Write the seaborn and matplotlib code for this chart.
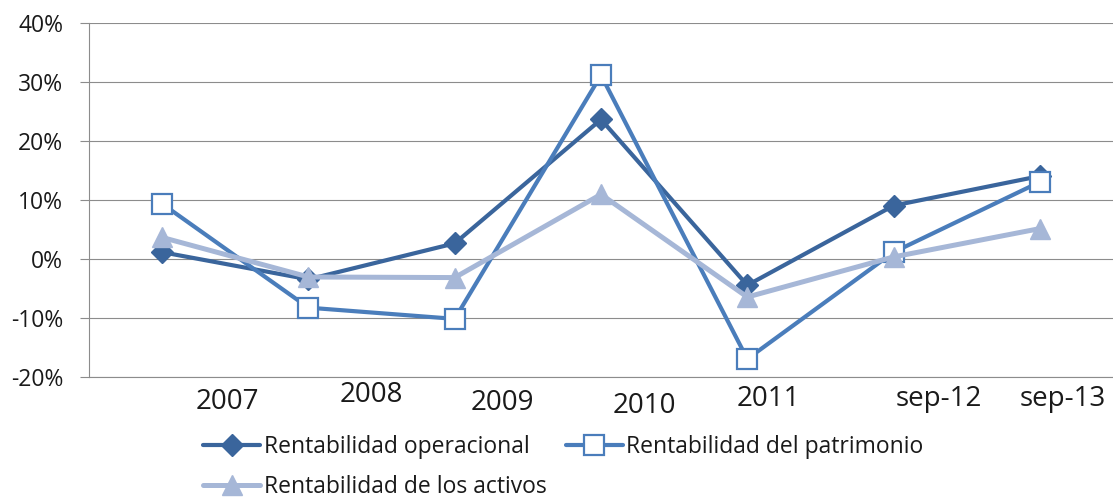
import matplotlib
matplotlib.use("Agg")
import matplotlib.pyplot as plt
from matplotlib.lines import Line2D
from matplotlib.ticker import PercentFormatter, MultipleLocator
import seaborn as sns
import pandas as pd

# Periods on the x axis
periods = ["2007", "2008", "2009", "2010", "2011", "sep-12", "sep-13"]

# Profitability ratios (fractions)
rent_operacional = [0.011, -0.035, 0.026, 0.236, -0.045, 0.090, 0.140]
rent_patrimonio = [0.093, -0.083, -0.102, 0.311, -0.170, 0.011, 0.130]
rent_activos = [0.036, -0.031, -0.032, 0.109, -0.065, 0.003, 0.051]

series_names = ["Rentabilidad operacional",
                "Rentabilidad del patrimonio",
                "Rentabilidad de los activos"]

sns.set_theme(style="white")
plt.rcParams["font.family"] = ["Open Sans", "DejaVu Sans"]
plt.rcParams["axes.unicode_minus"] = False

df = pd.DataFrame({
    "periodo": periods * 3,
    "valor": rent_operacional + rent_patrimonio + rent_activos,
    "serie": [series_names[0]] * 7 + [series_names[1]] * 7 + [series_names[2]] * 7,
})

styles = {
    series_names[0]: dict(color="#3A659C", marker="D", markersize=11,
                          markerfacecolor="#3A659C", markeredgecolor="#3A659C",
                          markeredgewidth=1, linewidth=3.0),
    series_names[1]: dict(color="#4A7DBB", marker="s", markersize=14,
                          markerfacecolor="white", markeredgecolor="#4A7DBB",
                          markeredgewidth=1.6, linewidth=3.0),
    series_names[2]: dict(color="#A6B7D7", marker="^", markersize=15,
                          markerfacecolor="#A6B7D7", markeredgecolor="#A6B7D7",
                          markeredgewidth=1, linewidth=3.6),
}

fig = plt.figure(figsize=(11.13, 5.03), dpi=100)
ax = fig.add_axes([0.080, 0.2511, 0.920, 0.7038])

for name in series_names:
    sub = df[df["serie"] == name]
    sns.lineplot(data=sub, x="periodo", y="valor", ax=ax, sort=False,
                 legend=False, **styles[name])

ax.set_xlim(-0.5, 6.5)
ax.set_ylim(-0.2, 0.4)
ax.yaxis.set_major_locator(MultipleLocator(0.1))
ax.yaxis.set_major_formatter(PercentFormatter(1.0, decimals=0))
ax.grid(axis="y", color="#8C8C8C", linewidth=0.8)
ax.grid(axis="x", visible=False)
ax.set_axisbelow(True)
for side in ("top", "right"):
    ax.spines[side].set_visible(False)
ax.spines["left"].set_color("#8C8C8C")
ax.spines["left"].set_linewidth(0.8)
ax.spines["bottom"].set_color("#8C8C8C")
ax.spines["bottom"].set_linewidth(0.8)
ax.set_xlabel("")
ax.set_ylabel("")

ax.tick_params(axis="y", which="major", left=True, length=6.5, width=0.8,
               color="#8C8C8C", pad=12, labelsize=16.5, labelcolor="#1A1A1A")

# Category labels sit below the axis with individual offsets
ax.set_xticks(range(len(periods)))
ax.set_xticklabels([])
ax.tick_params(axis="x", bottom=False)
label_offsets = [(65, -25), (63, -18), (48, -26), (43, -29),
                 (21, -22), (45, -22), (23, -22)]
for i, (lab, (dx, dy)) in enumerate(zip(periods, label_offsets)):
    ax.annotate(lab, xy=(i, 0), xycoords=("data", "axes fraction"),
                xytext=(dx, dy), textcoords="offset pixels",
                ha="center", va="center", fontsize=20, color="#1A1A1A",
                annotation_clip=False)

# Legend: two entries on the first row, one on the second
handles = {name: Line2D([], [], **styles[name]) for name in series_names}
order = [series_names[0], series_names[2], series_names[1]]
fig.legend([handles[n] for n in order], order,
           loc="upper left", bbox_to_anchor=(203 / 1113, 1 - 435 / 503),
           ncol=2, frameon=False, fontsize=16.5, borderpad=0, borderaxespad=0,
           handlelength=2.5, handletextpad=0.14, columnspacing=0.85,
           labelspacing=0.7, labelcolor="#1A1A1A")

fig.savefig("out.png", dpi=100, facecolor="white")
